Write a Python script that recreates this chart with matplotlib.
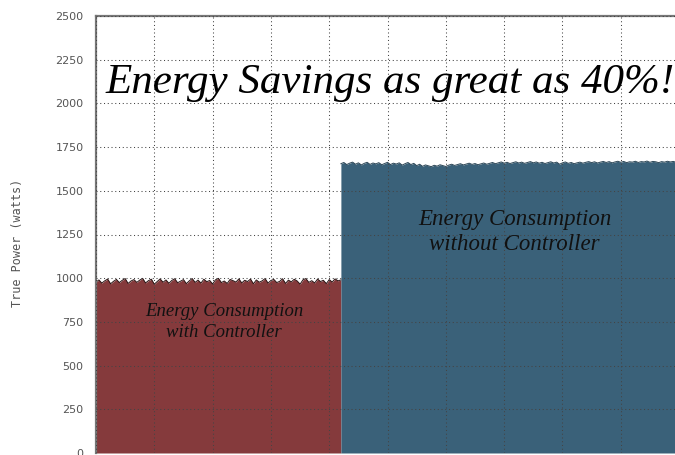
"""Energy savings step chart: true power with and without controller."""

import matplotlib

matplotlib.use("Agg")

import matplotlib.pyplot as plt
import numpy as np


# power readings (watts)
WITH_CONTROLLER = [
    978, 990, 972, 985, 995, 968, 982, 993, 975, 988, 998, 970, 984, 992, 976,
    989, 999, 973, 986, 994, 966, 981, 996, 977, 990, 971, 987, 997, 974, 983,
    992, 969, 985, 998, 976, 989, 972, 994, 980, 987, 967, 991, 999, 975, 984,
    970, 993, 986, 978, 996, 973, 988, 981, 995, 968, 990, 977, 985, 998, 972,
    987, 993, 975, 982, 997, 970, 989, 979, 994, 984, 966, 991, 998, 976, 986,
    973, 995, 981, 988, 969, 992, 978, 996, 985, 990,
]
WITHOUT_CONTROLLER = [
    1655, 1662, 1650, 1658, 1664, 1652, 1660, 1648, 1657, 1663, 1651, 1659,
    1654, 1661, 1649, 1656, 1663, 1650, 1658, 1653, 1660, 1647, 1655, 1662,
    1650, 1657, 1644, 1652, 1640, 1648, 1643, 1638, 1646, 1641, 1649, 1644,
    1639, 1647, 1652, 1645, 1650, 1655, 1648, 1653, 1658, 1651, 1656, 1649,
    1654, 1659, 1652, 1657, 1662, 1655, 1660, 1665, 1658, 1663, 1656, 1661,
    1666, 1659, 1664, 1657, 1662, 1667, 1660, 1665, 1658, 1663, 1656, 1661,
    1666, 1659, 1664, 1652, 1660, 1665, 1657, 1662, 1655, 1660, 1664, 1658,
    1663, 1667, 1661, 1666, 1659, 1664, 1668, 1662, 1667, 1660, 1665, 1669,
    1663, 1668, 1661, 1666, 1664, 1669, 1662, 1667, 1665, 1670, 1663, 1668,
    1666, 1661, 1667, 1664, 1669, 1665, 1668, 1663, 1667,
]
SWITCH_TIME = 42
END_TIME = 100
Y_TICKS = [0, 250, 500, 750, 1000, 1250, 1500, 1750, 2000, 2250, 2500]

TITLE = "Energy Savings as great as 40%!"
LABEL_WITH = "Energy Consumption\nwith Controller"
LABEL_WITHOUT = "Energy Consumption\nwithout Controller"
Y_LABEL = "True Power (watts)"

RED = "#853a3c"
BLUE = "#3a6179"


def main():
    t_with = np.linspace(0, SWITCH_TIME, len(WITH_CONTROLLER))
    t_without = np.linspace(SWITCH_TIME, END_TIME, len(WITHOUT_CONTROLLER))

    fig = plt.figure(figsize=(6.75, 4.55), dpi=100)
    ax = fig.add_axes([96 / 675, 2 / 455, 1 - 96 / 675, 437 / 455])

    ax.fill_between(t_with, 0, WITH_CONTROLLER, color=RED, linewidth=0)
    ax.plot(t_with, WITH_CONTROLLER, color="#2a1414", linewidth=0.7)
    ax.fill_between(t_without, 0, WITHOUT_CONTROLLER, color=BLUE, linewidth=0)
    ax.plot(t_without, WITHOUT_CONTROLLER, color="#2c4656", linewidth=0.7)

    ax.set_xlim(0, 99.3)
    ax.set_ylim(0, 2500)
    ax.set_yticks(Y_TICKS)
    ax.set_yticklabels([str(v) for v in Y_TICKS])
    ax.set_xticks(np.arange(0, 100, 10))
    ax.set_xticklabels([])
    ax.tick_params(axis="both", length=0, pad=9, labelsize=8, labelcolor="#555555")

    ax.set_axisbelow(False)
    ax.grid(True, color="#444444", linestyle=(0, (1, 2.6)), linewidth=0.75)

    for side in ["right", "bottom"]:
        ax.spines[side].set_visible(False)
    for side in ["left", "top"]:
        ax.spines[side].set_color("#777777")
        ax.spines[side].set_linewidth(1.6)

    serif = ["Liberation Serif", "DejaVu Serif"]
    ax.text(50.5, 2120, TITLE, family=serif, style="italic", fontsize=31,
            ha="center", va="center", color="black", zorder=4)
    ax.text(22.0, 750, LABEL_WITH, family=serif, style="italic", fontsize=13.5,
            ha="center", va="center", color="#111111", linespacing=1.3, zorder=4)
    ax.text(71.8, 1265, LABEL_WITHOUT, family=serif, style="italic", fontsize=16.5,
            ha="center", va="center", color="#111111", linespacing=1.25, zorder=4)

    fig.text(18 / 675, 1 - 243 / 455, Y_LABEL, rotation=90, fontsize=8.5,
             family=["DejaVu Sans Mono"], color="#555555", ha="center", va="center")

    fig.savefig("out.png", dpi=100)
    plt.close(fig)


if __name__ == "__main__":
    main()
